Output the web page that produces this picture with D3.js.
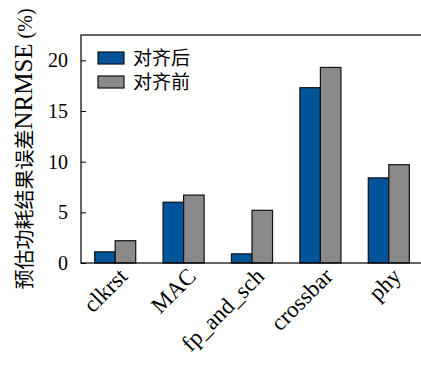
<!DOCTYPE html>
<html>
<head>
<meta charset="utf-8">
<script src="https://cdn.jsdelivr.net/npm/d3@7"></script>
<style>
  html, body { margin: 0; padding: 0; background: #fff; }
  svg { display: block; }
</style>
</head>
<body>
<svg id="chart" width="421" height="369"></svg>
<script>
// Power estimation error per module, before and after alignment
const categories = ["clkrst", "MAC", "fp_and_sch", "crossbar", "phy"];
const seriesNames = ["对齐后", "对齐前"];
const afterAlign = [1.1, 6.0, 0.9, 17.3, 8.4];
const beforeAlign = [2.2, 6.7, 5.2, 19.3, 9.7];
const yTicks = [0, 5, 10, 15, 20];
const colors = ["#00549a", "#8a8a8a"];

const serif = "'Liberation Serif', 'DejaVu Serif', serif";
const cjk = "'Noto Sans CJK SC', sans-serif";

const svg = d3.select("#chart");
const margin = { left: 81, top: 35, right: -2, bottom: 106 };
const W = 421, H = 369;
const x0 = margin.left, x1 = W - margin.right;
const yTop = margin.top, yBot = H - margin.bottom;

const x = d3.scaleBand().domain(categories).range([x0, x1]).paddingInner(0.4).paddingOuter(0.2);
const xs = d3.scaleBand().domain(seriesNames).range([0, x.bandwidth()]);
const y = d3.scaleLinear().domain([0, 22.5]).range([yBot, yTop]);

const data = [afterAlign, beforeAlign];

// bars
const g = svg.append("g");
seriesNames.forEach((s, si) => {
  g.selectAll(null).data(categories).enter().append("rect")
    .attr("x", c => x(c) + xs(s))
    .attr("y", (c, i) => y(data[si][i]))
    .attr("width", xs.bandwidth())
    .attr("height", (c, i) => y(0) - y(data[si][i]))
    .attr("fill", colors[si])
    .attr("stroke", "#111")
    .attr("stroke-width", 1.2);
});

// frame
svg.append("rect")
  .attr("x", x0).attr("y", yTop)
  .attr("width", x1 - x0).attr("height", yBot - yTop)
  .attr("fill", "none").attr("stroke", "#000").attr("stroke-width", 1.2);

// y axis with inward ticks
const yAxis = d3.axisLeft(y).tickValues(yTicks).tickSizeInner(-5).tickSizeOuter(0).tickPadding(13);
const ya = svg.append("g").attr("transform", `translate(${x0},0)`).call(yAxis);
ya.select(".domain").remove();
ya.selectAll(".tick line").attr("stroke", "#000").attr("stroke-width", 1);
ya.selectAll(".tick text")
  .attr("font-family", serif).attr("font-size", 20).attr("fill", "#000");

// x axis labels, rotated
const xAxis = d3.axisBottom(x).tickSize(0).tickPadding(0);
const xa = svg.append("g").attr("transform", `translate(0,${yBot})`).call(xAxis);
xa.select(".domain").remove();
xa.selectAll(".tick text")
  .attr("font-family", serif).attr("font-size", 23).attr("fill", "#000")
  .attr("text-anchor", "end")
  .attr("dy", "0.35em")
  .attr("transform", "translate(8,9) rotate(-45)");

// y-axis title
svg.append("text")
  .attr("transform", `translate(32,${149}) rotate(-90)`)
  .attr("text-anchor", "middle")
  .attr("fill", "#000")
  .call(t => {
    t.append("tspan").attr("font-family", cjk).attr("font-size", 20).text("预估功耗结果误差");
    t.append("tspan").attr("font-family", serif).attr("font-size", 25).text("NRMSE");
    t.append("tspan").attr("font-family", serif).attr("font-size", 20).text(" (%)");
  });

// legend
const lg = svg.append("g").attr("transform", "translate(98,52)");
seriesNames.forEach((s, i) => {
  const row = lg.append("g").attr("transform", `translate(0,${i * 24})`);
  row.append("rect").attr("width", 26).attr("height", 12)
    .attr("fill", colors[i]).attr("stroke", "#111").attr("stroke-width", 1.2);
  row.append("text").attr("x", 35).attr("y", 6).attr("dy", "0.36em")
    .attr("font-family", cjk).attr("font-size", 19).attr("fill", "#000").text(s);
});
</script>
</body>
</html>
